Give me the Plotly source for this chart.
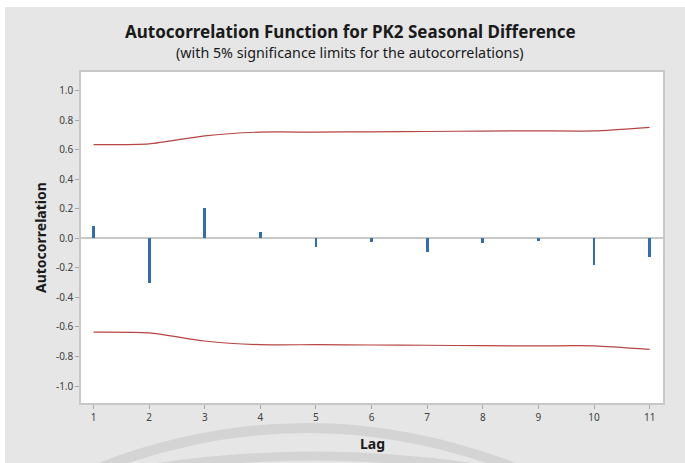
import plotly.graph_objects as go

# ---- data ----
lags = [1, 2, 3, 4, 5, 6, 7, 8, 9, 10, 11]
acf = [0.086, -0.305, 0.206, 0.045, -0.061, -0.027, -0.090, -0.034, -0.016, -0.178, -0.128]
upper_limit = [0.635, 0.640, 0.695, 0.720, 0.720, 0.722, 0.724, 0.727, 0.728, 0.728, 0.752]
lower_limit = [-0.635, -0.640, -0.695, -0.720, -0.720, -0.722, -0.724, -0.727, -0.728, -0.728, -0.752]
y_tickvals = [1.0, 0.8, 0.6, 0.4, 0.2, 0.0, -0.2, -0.4, -0.6, -0.8, -1.0]
y_ticktext = ["1.0", "0.8", "0.6", "0.4", "0.2", "0.0", "-0.2", "-0.4", "-0.6", "-0.8", "-1.0"]

title = "Autocorrelation Function for PK2 Seasonal Difference"
subtitle = "(with 5% significance limits for the autocorrelations)"

# ---- layout geometry (pixels) ----
W, H = 685, 463
L, R, T, B = 81, 22, 72, 60
PW, PH = W - L - R, H - T - B

def px_x(px):
    return (px - L) / PW

def px_y(py):
    return (H - B - py) / PH

def arc_path(x0, y0, cx, cy, x1, y1):
    return "M {:.4f},{:.4f} Q {:.4f},{:.4f} {:.4f},{:.4f}".format(
        px_x(x0), px_y(y0), px_x(cx), px_y(cy), px_x(x1), px_y(y1))

FONT = "Noto Sans"
GRAY_BG = "#e6e6e6"
ARC = "#d4d4d4"

fig = go.Figure()

fig.add_trace(go.Bar(x=lags, y=acf, width=0.05, marker=dict(color="#2f6db5", line=dict(width=0)),
                     showlegend=False, hoverinfo="x+y"))
fig.add_trace(go.Scatter(x=lags, y=upper_limit, mode="lines",
                         line=dict(color="#b84444", width=1.2, shape="spline", smoothing=0.6),
                         showlegend=False))
fig.add_trace(go.Scatter(x=lags, y=lower_limit, mode="lines",
                         line=dict(color="#b84444", width=1.2, shape="spline", smoothing=0.6),
                         showlegend=False))

shapes = [
    # gray outer background
    dict(type="rect", xref="paper", yref="paper", layer="below",
         x0=px_x(5), x1=px_x(W + 5), y0=px_y(H + 5), y1=px_y(7),
         fillcolor=GRAY_BG, line=dict(width=0)),
    # watermark arcs
    dict(type="path", xref="paper", yref="paper", layer="below",
         path=arc_path(70, 480, 307, 376, 544, 480),
         line=dict(color=ARC, width=10)),
    dict(type="path", xref="paper", yref="paper", layer="below",
         path=arc_path(113, 475, 315, 437, 517, 475),
         line=dict(color=ARC, width=9)),
    # white plot area
    dict(type="rect", xref="paper", yref="paper", layer="below",
         x0=0, x1=1, y0=0, y1=1, fillcolor="white", line=dict(width=0)),
]

annotations = [
    dict(text="<b>" + title + "</b>", x=px_x(350), y=px_y(32), xref="paper", yref="paper",
         showarrow=False, xanchor="center", yanchor="middle",
         font=dict(family=FONT, size=17, color="#1a1a1a")),
    dict(text=subtitle, x=px_x(350), y=px_y(52), xref="paper", yref="paper",
         showarrow=False, xanchor="center", yanchor="middle",
         font=dict(family=FONT, size=14.3, color="#1a1a1a")),
    dict(text="<b>Autocorrelation</b>", x=px_x(40), y=px_y(238), xref="paper", yref="paper",
         showarrow=False, xanchor="center", yanchor="middle", textangle=-90,
         font=dict(family=FONT, size=14, color="#1a1a1a")),
    dict(text="<b>Lag</b>", x=px_x(372), y=px_y(443), xref="paper", yref="paper",
         showarrow=False, xanchor="center", yanchor="middle",
         font=dict(family=FONT, size=14, color="#1a1a1a")),
]

fig.update_layout(
    width=W, height=H,
    margin=dict(l=L, r=R, t=T, b=B, pad=0),
    paper_bgcolor="white", plot_bgcolor="white",
    shapes=shapes, annotations=annotations,
    bargap=0, showlegend=False,
    font=dict(family=FONT, size=10, color="#404040"),
)

fig.update_xaxes(
    range=[0.775, 11.24], tickvals=lags, ticktext=[str(v) for v in lags],
    showgrid=False, zeroline=False,
    showline=True, linecolor="#c8c8c8", linewidth=1.5, mirror=True,
    ticks="outside", ticklen=4, tickcolor="#a8a8a8", tickwidth=1,
    tickfont=dict(family=FONT, size=10, color="#404040"),
)
fig.update_yaxes(
    range=[-1.115, 1.127], tickvals=y_tickvals, ticktext=y_ticktext,
    showgrid=False, zeroline=True, zerolinecolor="#c8c8c8", zerolinewidth=2,
    showline=True, linecolor="#c8c8c8", linewidth=1.5, mirror=True,
    ticks="outside", ticklen=4, tickcolor="#a8a8a8", tickwidth=1,
    tickfont=dict(family=FONT, size=10, color="#404040"),
)

fig.write_html("out.html", config={"displayModeBar": False},
               post_script="document.body.style.margin='0';document.body.style.padding='0';")
